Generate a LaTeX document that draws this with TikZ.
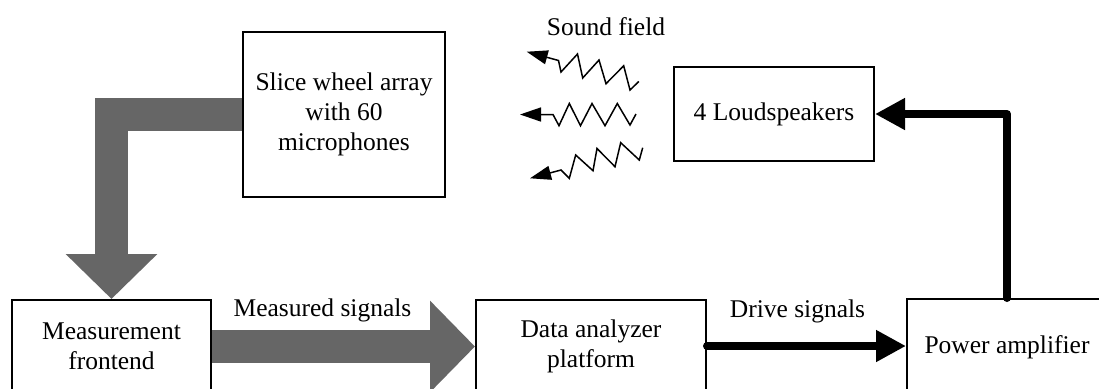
\documentclass[tikz,border=0pt]{standalone}
\usepackage{fontspec}
\setmainfont{Liberation Serif}
\usetikzlibrary{arrows.meta}
\definecolor{arrowgray}{HTML}{666666}
\begin{document}
\begin{tikzpicture}[x=0.5pt,y=-0.5pt,
  font=\fontsize{12.75}{15}\selectfont,
  blockbox/.style={draw=black,line width=1pt,inner sep=0pt,align=center,fill=none},
  grayflow/.style={draw=arrowgray,line width=16.5pt,line join=miter,
    -{Triangle[length=22.5pt,width=44.5pt]},arrowgray},
  blackflow/.style={draw=black,line width=4pt,line cap=round,line join=round,
    -{Triangle[length=15pt,width=15pt]}},
  wave/.style={draw=black,line width=0.75pt,{Triangle[length=10.5pt,width=7pt]}-},
  lbl/.style={anchor=base,inner sep=0pt}]
\useasboundingbox (0,0) rectangle (1099,388);
\clip (0,0) rectangle (1099,388);

% blocks
\node[blockbox,minimum width=101pt,minimum height=82.5pt] (slice) at (344,114.5)
  {Slice wheel array\\with 60\\microphones};
\node[blockbox,minimum width=100pt,minimum height=47pt] (ls) at (774,114)
  {4 Loudspeakers};
\node[blockbox,minimum width=99.5pt,minimum height=46.5pt] (mf) at (111.5,346.5)
  {Measurement\\frontend};
\node[blockbox,minimum width=115pt,minimum height=46pt] (da) at (591,346)
  {Data analyzer\\platform};
\node[blockbox,minimum width=100pt,minimum height=48pt] (pa) at (1007,347)
  {Power amplifier};

% connectors
\draw[grayflow] (slice.west) -| (mf.north);
\draw[grayflow] (mf.east) -- (mf.east -| da.west);
\draw[blackflow] (da.east) -- (da.east -| pa.west);
\draw[blackflow] (pa.north) |- (ls.east);

% labels
\node[lbl] (meas) at (322.5,316) {Measured signals};
\node[lbl] (drive) at (797.5,317) {Drive signals};
\node[lbl] (sound) at (606,35) {Sound field};

% sound field waves
\draw[wave] (526.7,51.7) -- (558.5,60.5) -- (561,72) -- (577.5,54) -- (582.7,78)
  -- (599,60) -- (606,83.7) -- (623.7,65.8) -- (630,90) -- (638.8,81.5);
\draw[wave] (520,114.5) -- (553,114.5) -- (559,125.7) -- (569.3,103.5) -- (580.5,125.7)
  -- (592,103.5) -- (605,125.7) -- (617.3,103.5) -- (630,125) -- (636,114);
\draw[wave] (530,178.3) -- (561,170) -- (569.3,178.3) -- (575.7,155) -- (593,170.7)
  -- (597,148.5) -- (615,166.7) -- (620.7,142.7) -- (639.3,160) -- (642.7,147.7);
\end{tikzpicture}
\end{document}
